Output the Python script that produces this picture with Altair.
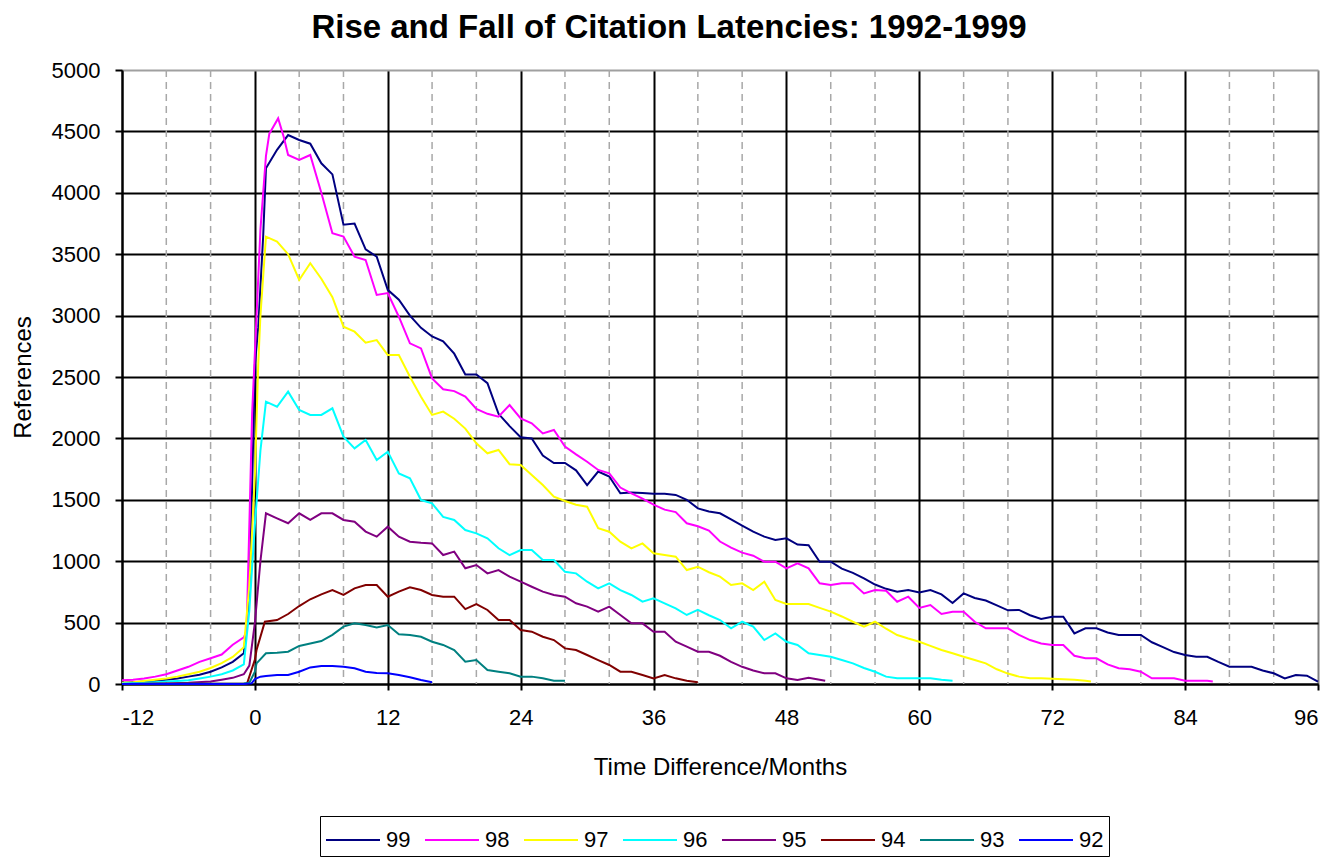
import altair as alt
import pandas as pd

# ---------------- data ----------------
series_names = ["99", "98", "97", "96", "95", "94", "93", "92"]
series_colors = ["#000080", "#FF00FF", "#FFFF00", "#00FFFF", "#800080", "#800000", "#008080", "#0000FF"]

m99 = [-12, -11, -10, -9, -8, -7, -6, -5, -4, -3, -2, -1, -0.5, -0.25, 0, 0.3, 0.75, 1,
       2, 3, 4, 5, 6, 7, 8, 9, 10, 11, 12, 13, 14, 15, 16, 17, 18, 19, 20, 21, 22, 23, 24,
       25, 26, 27, 28, 29, 30, 31, 32, 33, 34, 35, 36, 37, 38, 39, 40, 41, 42, 43, 44, 45,
       46, 47, 48, 49, 50, 51, 52, 53, 54, 55, 56, 57, 58, 59, 60, 61, 62, 63, 64, 65, 66,
       67, 68, 69, 70, 71, 72, 73, 74, 75, 76, 77, 78, 79, 80, 81, 82, 83, 84, 85, 86, 87,
       88, 89, 90, 91, 92, 93, 94, 95, 96]
v99 = [10, 15, 20, 25, 35, 45, 60, 75, 100, 135, 180, 250, 700, 1600, 2600, 2900, 3650, 4200,
       4350, 4470, 4430, 4400, 4240, 4150, 3740, 3750, 3540, 3480, 3210, 3130, 3000, 2900, 2830,
       2790, 2690, 2520, 2520, 2450, 2200, 2100, 2010, 2000, 1860, 1800, 1800, 1740, 1620, 1730,
       1690, 1553, 1560, 1555, 1550, 1550, 1540, 1500, 1430, 1405, 1390, 1340, 1290, 1240, 1200,
       1173, 1186, 1135, 1130, 996, 996, 940, 905, 860, 810, 775, 752, 765, 745, 765, 730, 660,
       738, 700, 680, 640, 600, 603, 560, 530, 548, 548, 412, 453, 453, 420, 399, 399, 399, 340,
       300, 260, 236, 222, 222, 180, 141, 141, 141, 110, 87, 46, 73, 68, 19]

m98 = [-12, -11, -10, -9, -8, -7, -6, -5, -4, -3, -2, -1, -0.75, -0.5, -0.25, 0, 0.25, 0.5,
       0.75, 1, 1.3, 2.1, 2.6, 3, 4, 5, 6, 7, 8, 9, 10, 11, 12, 13, 14, 15, 16, 17, 18, 19, 20,
       21, 22, 23, 24, 25, 26, 27, 28, 29, 30, 31, 32, 33, 34, 35, 36, 37, 38, 39, 40, 41, 42,
       43, 44, 45, 46, 47, 48, 49, 50, 51, 52, 53, 54, 55, 56, 57, 58, 59, 60, 61, 62, 63, 64,
       65, 66, 67, 68, 69, 70, 71, 72, 73, 74, 75, 76, 77, 78, 79, 80, 81, 82, 83, 84, 85, 86, 86.5]
v98 = [30, 35, 45, 60, 80, 110, 140, 180, 210, 240, 320, 380, 430, 1300, 2200, 2700, 3200, 3700,
       4000, 4300, 4480, 4606, 4457, 4308, 4267, 4308, 4000, 3670, 3643, 3480, 3453, 3168, 3184,
       2991, 2774, 2733, 2489, 2400, 2385, 2340, 2240, 2200, 2177, 2272, 2163, 2123, 2040, 2068,
       1933, 1870, 1810, 1743, 1715, 1600, 1553, 1510, 1460, 1420, 1400, 1309, 1285, 1250, 1160,
       1110, 1070, 1045, 996, 996, 942, 983, 942, 820, 806, 820, 820, 738, 765, 760, 670, 711,
       620, 643, 570, 589, 589, 507, 453, 453, 453, 400, 358, 330, 318, 318, 230, 209, 209, 160,
       128, 120, 100, 46, 46, 46, 27, 27, 27, 20]

m97 = [-12, -11, -10, -9, -8, -7, -6, -5, -4, -3, -2, -1, -0.5, 0, 0.3, 0.5, 1, 2, 3, 4, 5, 6,
       7, 8, 9, 10, 11, 12, 13, 14, 15, 16, 17, 18, 19, 20, 21, 22, 23, 24, 25, 26, 27, 28, 29,
       30, 31, 32, 33, 34, 35, 36, 37, 38, 39, 40, 41, 42, 43, 44, 45, 46, 47, 48, 49, 50, 51,
       52, 53, 54, 55, 56, 57, 58, 59, 60, 61, 62, 63, 64, 65, 66, 67, 68, 69, 70, 71, 72, 73,
       74, 75, 75.5]
v97 = [10, 15, 25, 35, 45, 60, 80, 100, 130, 170, 220, 300, 800, 1700, 2600, 3000, 3643, 3602,
       3500, 3290, 3426, 3300, 3150, 2910, 2869, 2780, 2801, 2679, 2679, 2502, 2340, 2191, 2218,
       2160, 2080, 1960, 1879, 1906, 1790, 1784, 1702, 1620, 1525, 1490, 1460, 1444, 1268, 1240,
       1159, 1105, 1145, 1064, 1050, 1037, 928, 955, 910, 874, 806, 820, 765, 833, 684, 651, 651,
       651, 620, 589, 550, 507, 467, 507, 450, 399, 370, 344, 310, 277, 250, 222, 195, 168, 120,
       85, 60, 46, 46, 42, 38, 35, 27, 20]

m96 = [-12, -11, -10, -9, -8, -7, -6, -5, -4, -3, -2, -1, -0.5, 0, 0.5, 1, 2, 3, 4, 5, 6, 7, 8,
       9, 10, 11, 12, 13, 14, 15, 16, 17, 18, 19, 20, 21, 22, 23, 24, 25, 26, 27, 28, 29, 30, 31,
       32, 33, 34, 35, 36, 37, 38, 39, 40, 41, 42, 43, 44, 45, 46, 47, 48, 49, 50, 51, 52, 53,
       54, 55, 56, 57, 58, 59, 60, 61, 62, 63]
v96 = [5, 8, 10, 15, 20, 25, 30, 45, 60, 80, 110, 160, 600, 1300, 1900, 2299, 2258, 2381, 2231,
       2191, 2191, 2245, 2014, 1919, 1987, 1824, 1892, 1715, 1675, 1498, 1471, 1360, 1336, 1254,
       1227, 1186, 1105, 1050, 1091, 1091, 1010, 1010, 914, 901, 833, 779, 820, 765, 725, 670,
       698, 657, 616, 562, 603, 560, 521, 453, 507, 467, 358, 412, 344, 318, 250, 236, 222, 195,
       168, 130, 100, 60, 46, 46, 46, 46, 35, 27]

m95 = [-12, -10, -8, -6, -4, -3, -2, -1, -0.5, 0, 0.5, 1, 2, 3, 4, 5, 6, 7, 8, 9, 10, 11, 12,
       13, 14, 15, 16, 17, 18, 19, 20, 21, 22, 23, 24, 25, 26, 27, 28, 29, 30, 31, 32, 33, 34,
       35, 36, 37, 38, 39, 40, 41, 42, 43, 44, 45, 46, 47, 48, 49, 50, 51, 51.5]
v95 = [0, 3, 5, 10, 20, 35, 50, 80, 150, 500, 1000, 1390, 1349, 1309, 1390, 1336, 1390, 1390,
       1336, 1322, 1241, 1200, 1281, 1200, 1159, 1150, 1145, 1050, 1078, 942, 969, 901, 928, 874,
       833, 792, 752, 725, 711, 657, 630, 589, 630, 562, 494, 494, 426, 426, 344, 304, 263, 263,
       230, 180, 140, 110, 87, 87, 46, 33, 50, 35, 27]

m94 = [-12, -8, -4, -1, -0.7, 0, 0.15, 0.9, 2, 3, 4, 5, 6, 7, 8, 9, 10, 11, 12, 13, 14, 15,
       16, 17, 18, 19, 20, 21, 22, 23, 24, 25, 26, 27, 28, 29, 30, 31, 32, 33, 34, 35, 36, 37,
       38, 39, 40]
v94 = [0, 2, 3, 3, 5, 200, 277, 507, 521, 570, 635, 690, 730, 765, 725, 779, 806, 806, 711,
       752, 787, 765, 725, 711, 711, 610, 651, 603, 521, 521, 440, 426, 385, 358, 290, 277, 236,
       195, 155, 100, 100, 73, 46, 73, 46, 27, 15]

m93 = [-12, -6, -1, -0.5, 0, 0.15, 1, 2, 3, 4, 5, 6, 7, 8, 9, 10, 11, 12, 13, 14, 15, 16, 17,
       18, 19, 20, 21, 22, 23, 24, 25, 26, 27, 28]
v93 = [0, 2, 5, 10, 100, 168, 250, 255, 263, 310, 330, 350, 400, 467, 494, 480, 461, 480, 405,
       399, 385, 344, 318, 277, 182, 195, 114, 100, 87, 60, 60, 46, 27, 27]

m92 = [-12, -1, -0.3, 0, 0.5, 1, 2, 3, 4, 5, 6, 7, 8, 9, 10, 11, 12, 13, 14, 15, 16]
v92 = [0, 0, 5, 40, 60, 65, 73, 73, 100, 135, 147, 147, 140, 128, 100, 90, 87, 73, 55, 33, 15]

x_ticks = [-12, 0, 12, 24, 36, 48, 60, 72, 84, 96]
x_minor = [-8, -4, 4, 8, 16, 20, 28, 32, 40, 44, 52, 56, 64, 68, 76, 80, 88, 92]
y_ticks = [0, 500, 1000, 1500, 2000, 2500, 3000, 3500, 4000, 4500, 5000]

title_text = "Rise and Fall of Citation Latencies: 1992-1999"
x_title = "Time Difference/Months"
y_title = "References"

# ---------------- table ----------------
months = [m99, m98, m97, m96, m95, m94, m93, m92]
values = [v99, v98, v97, v96, v95, v94, v93, v92]
rows = []
for name, ms, vs in zip(series_names, months, values):
    for m, v in zip(ms, vs):
        rows.append({"series": name, "month": m, "refs": v})
df = pd.DataFrame(rows)
minor_df = pd.DataFrame({"month": x_minor})

FONT = "Liberation Sans"

x_scale = alt.Scale(domain=[-12, 96], nice=False, zero=False)
y_scale = alt.Scale(domain=[0, 5000], nice=False)

minor = alt.Chart(minor_df).mark_rule(
    color="#a8a8a8", strokeWidth=1.5, strokeDash=[7, 5]
).encode(x=alt.X("month:Q", scale=x_scale))

lines = alt.Chart(df).mark_line(strokeWidth=2, interpolate="linear").encode(
    x=alt.X(
        "month:Q",
        scale=x_scale,
        axis=alt.Axis(
            values=x_ticks,
            title=x_title,
            labelExpr="'' + datum.value",
            grid=True,
            gridColor={"condition": {"test": "datum.value === 96", "value": "#808080"}, "value": "#000000"},
            gridWidth=2,
            domainColor="#000000",
            domainWidth=2,
            tickColor="#000000",
            tickWidth=2,
            tickSize=6,
            labelPadding=17,
            labelFontSize=22,
            labelFont=FONT,
            labelColor="#000000",
            titleFont=FONT,
            titleFontSize=24,
            titleFontWeight="normal",
            titleColor="#000000",
            titlePadding=27,
        ),
    ),
    y=alt.Y(
        "refs:Q",
        scale=y_scale,
        axis=alt.Axis(
            values=y_ticks,
            title=y_title,
            labelExpr="'' + datum.value",
            grid=True,
            gridColor={"condition": {"test": "datum.value === 5000", "value": "#a0a0a0"}, "value": "#000000"},
            gridWidth=2,
            domainColor="#000000",
            domainWidth=2,
            tickColor="#000000",
            tickWidth=2,
            tickSize=7,
            labelPadding=15,
            labelFontSize=22,
            labelFont=FONT,
            labelColor="#000000",
            titleFont=FONT,
            titleFontSize=24,
            titleFontWeight="normal",
            titleColor="#000000",
            titlePadding=16,
        ),
    ),
    color=alt.Color(
        "series:N",
        scale=alt.Scale(domain=series_names, range=series_colors),
        sort=series_names,
        legend=alt.Legend(
            orient="none",
            legendX=198,
            legendY=746,
            direction="horizontal",
            columns=8,
            title=None,
            symbolType="M-1,0L2,0",
            symbolSize=1296,
            symbolStrokeWidth=2,
            labelFont=FONT,
            labelFontSize=22,
            labelColor="#000000",
            labelOffset=23,
            columnPadding=10,
            padding=5,
            strokeColor="#000000",
            fillColor="#ffffff",
        ),
    ),
    detail="series:N",
)

chart = alt.layer(minor, lines).properties(
    width=1196,
    height=614,
    autosize=alt.AutoSizeParams(type="none"),
    padding={"left": 114, "top": 62, "right": 5, "bottom": 180},
    title=alt.TitleParams(
        text=title_text,
        font=FONT,
        fontSize=33,
        fontWeight="bold",
        color="#000000",
        anchor="middle",
        dx=-51,
        offset=14,
    ),
).configure_view(
    stroke="#a0a0a0", strokeWidth=1
).configure(background="#ffffff")

chart.save("out.html", embed_options={"renderer": "svg", "actions": False})
